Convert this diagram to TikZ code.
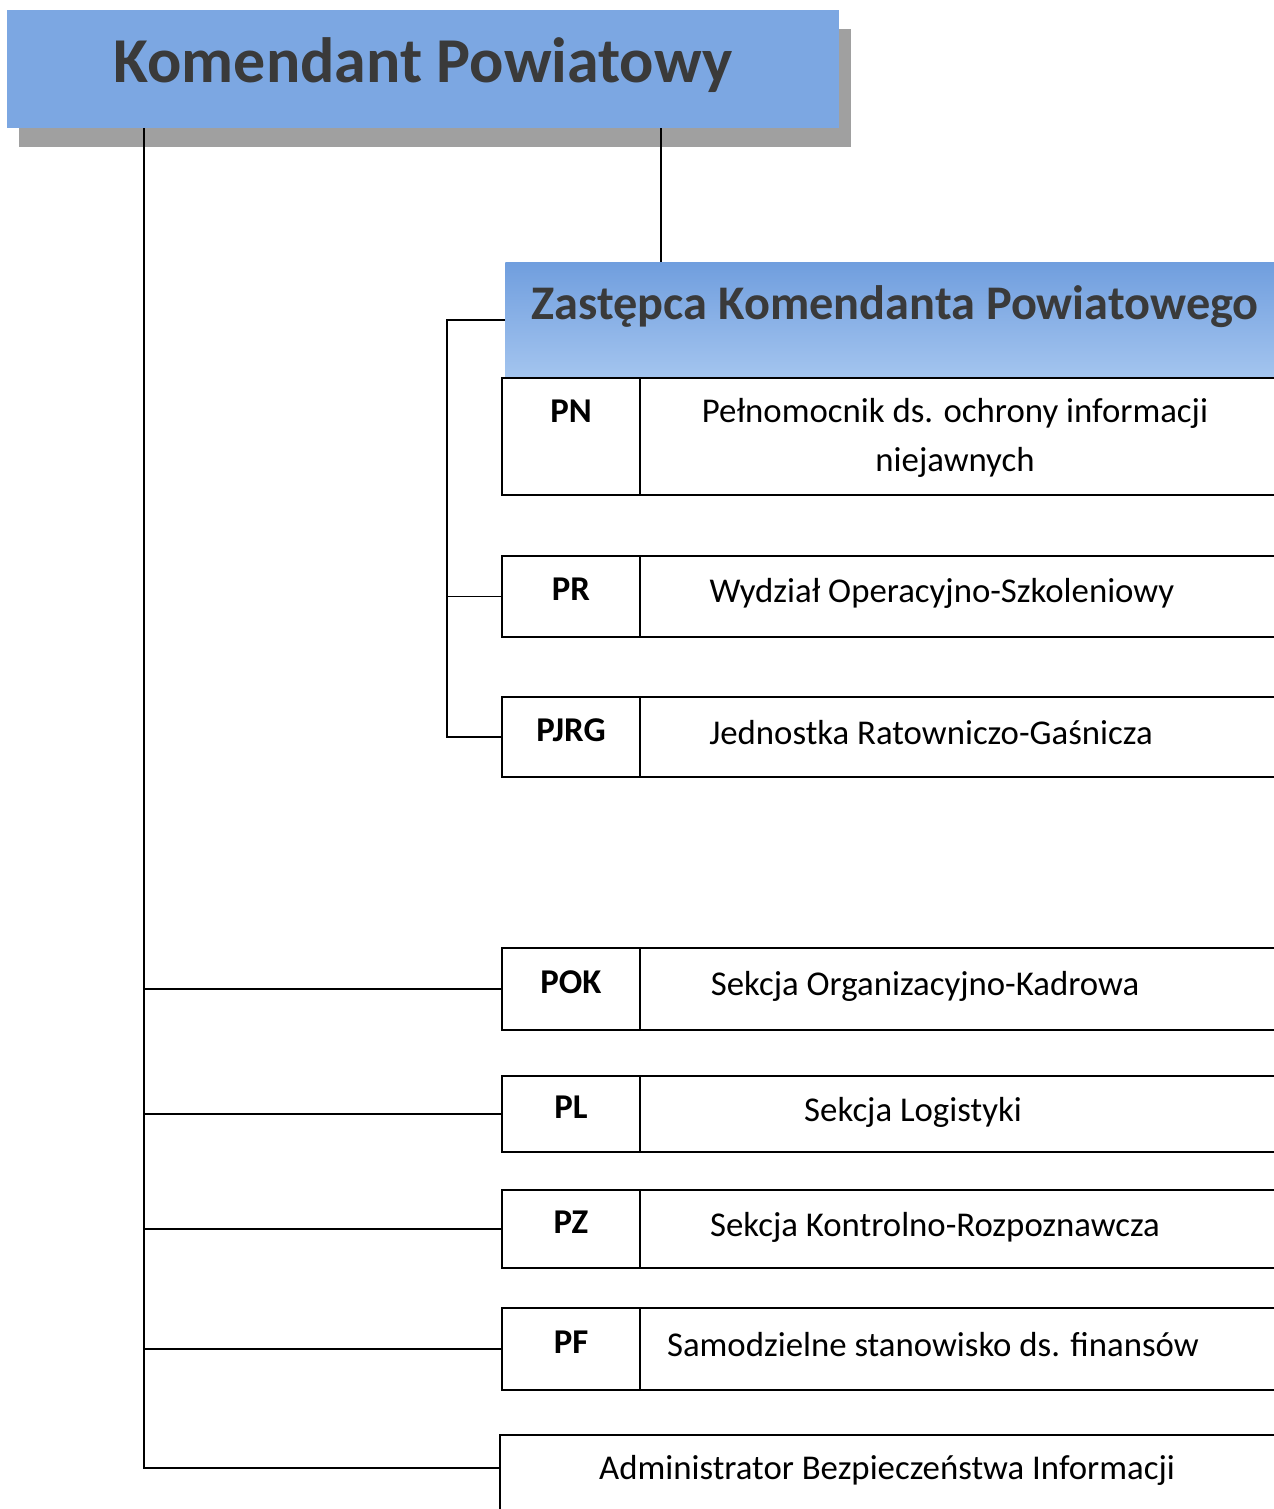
\documentclass[tikz,border=0pt]{standalone}
\usepackage{fontspec}
\setmainfont{Carlito}
\usetikzlibrary{positioning,shadows}

\definecolor{kpblue}{RGB}{124,167,226}
\definecolor{zkptop}{RGB}{112,158,222}
\definecolor{zkpbottom}{RGB}{164,197,239}
\definecolor{kpshadow}{RGB}{160,160,160}
\definecolor{titlegray}{RGB}{58,58,58}

\tikzset{
  kpbox/.style={fill=kpblue, minimum width=16.64cm, minimum height=2.36cm, inner sep=0pt,
    text=titlegray, text depth=0.37cm, font=\bfseries\fontsize{36.4}{40}\selectfont,
    drop shadow={shadow xshift=0.24cm, shadow yshift=-0.38cm, fill=kpshadow, opacity=1}},
  zkpbox/.style={top color=zkptop, bottom color=zkpbottom, minimum width=15.6cm, minimum height=2.32cm,
    inner sep=0pt, anchor=north west, text=titlegray, text depth=0.7cm,
    font=\bfseries\fontsize{27.5}{32}\selectfont},
  codecell/.style={draw, line width=1.1pt, minimum width=2.76cm, anchor=north west, inner sep=0pt,
    outer sep=0pt, text depth=0.28cm, font=\bfseries\fontsize{19.8}{24}\selectfont},
  namecell/.style={draw, line width=1.1pt, minimum width=13.2cm, inner sep=0pt, outer sep=0pt},
  nametext/.style={inner sep=0pt, align=center, font=\fontsize{19.8}{27.8}\selectfont},
  link/.style={line width=1.1pt},
}

\begin{document}
\begin{tikzpicture}[x=0.02cm,y=-0.02cm]
  \useasboundingbox (0,0) rectangle (1274,1509);
  \fill[white] (0,0) rectangle (1274,1509);
  \clip (0,0) rectangle (1274,1509);

  % heads
  \node[kpbox] (kp) at (423,69) {Komendant Powiatowy};
  \node[zkpbox] (zkp) at (505,262) {Zastępca Komendanta Powiatowego};

  % cells under the deputy
  \node[codecell, minimum height=2.34cm, text depth=1cm] (pn) at (502,378) {PN};
  \node[namecell, minimum height=2.34cm, right=0pt of pn] (pnN) {};
  \node[codecell, minimum height=1.62cm] (pr) at (502,556) {PR};
  \node[namecell, minimum height=1.62cm, right=0pt of pr] (prN) {};
  \node[codecell, minimum height=1.6cm] (pjrg) at (502,697) {PJRG};
  \node[namecell, minimum height=1.6cm, right=0pt of pjrg] (pjrgN) {};

  % cells under the commander
  \node[codecell, minimum height=1.64cm] (pok) at (502,948) {POK};
  \node[namecell, minimum height=1.64cm, right=0pt of pok] (pokN) {};
  \node[codecell, minimum height=1.52cm] (pl) at (502,1076) {PL};
  \node[namecell, minimum height=1.52cm, right=0pt of pl] (plN) {};
  \node[codecell, minimum height=1.56cm] (pz) at (502,1190) {PZ};
  \node[namecell, minimum height=1.56cm, right=0pt of pz] (pzN) {};
  \node[codecell, minimum height=1.64cm] (pf) at (502,1308) {PF};
  \node[namecell, minimum height=1.64cm, right=0pt of pf] (pfN) {};
  \node[namecell, minimum width=16cm, minimum height=1.8cm, anchor=north west] (abi) at (500,1435) {};

  % names
  \node[nametext] (pnT) at (955,438) {Pełnomocnik ds. ochrony informacji\\niejawnych};
  \node[nametext] (prT) at (942,593) {Wydział Operacyjno-Szkoleniowy};
  \node[nametext] (pjrgT) at (931,733) {Jednostka Ratowniczo-Gaśnicza};
  \node[nametext] (pokT) at (925,986) {Sekcja Organizacyjno-Kadrowa};
  \node[nametext] (plT) at (913,1112) {Sekcja Logistyki};
  \node[nametext] (pzT) at (935,1227) {Sekcja Kontrolno-Rozpoznawcza};
  \node[nametext] (pfT) at (933,1345) {Samodzielne stanowisko ds. finansów};
  \node[nametext] (abiT) at (887,1470) {Administrator Bezpieczeństwa Informacji};

  % links
  \coordinate (kpL) at (144,128);
  \coordinate (kpR) at (661,128);
  \draw[link] (kpR) -- (kpR |- zkp.north);
  \draw[link] (kpL) |- ([yshift=-0.66cm]abi.north west);
  \draw[link] (kpL |- pok.west) -- (pok.west);
  \draw[link] (kpL |- pl.west) -- (pl.west);
  \draw[link] (kpL |- pz.west) -- (pz.west);
  \draw[link] (kpL |- pf.west) -- (pf.west);
  \draw[link] (zkp.west) -- ++(-58,0) coordinate (zkpL) |- (pjrg.west);
  \draw[link] (zkpL |- pr.west) -- (pr.west);
\end{tikzpicture}
\end{document}
